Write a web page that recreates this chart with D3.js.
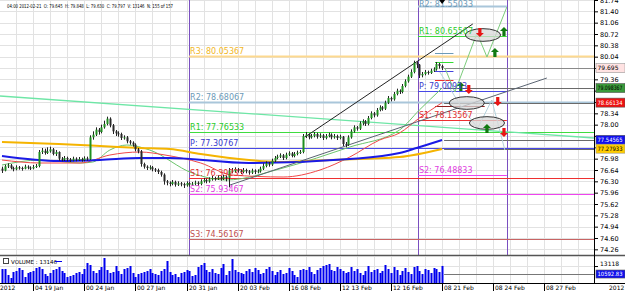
<!DOCTYPE html>
<html><head><meta charset="utf-8">
<script src="https://cdn.jsdelivr.net/npm/d3@7"></script>
<style>body{margin:0;background:#fff}svg{display:block;font-family:Tahoma,"DejaVu Sans",Verdana,sans-serif}</style>
</head><body><svg id="c" width="625" height="291"></svg>
<script>
// ---------- DATA ----------
const firstOpen = 76.68;
const closes = [76.62,76.75,76.78,76.70,76.66,76.72,76.70,76.68,76.74,76.71,76.69,76.73,76.76,77.18,77.22,77.15,77.20,77.26,77.12,77.18,
76.98,76.95,77.00,76.96,76.93,76.98,76.95,76.97,76.94,76.99,76.96,77.62,77.70,77.85,77.78,77.92,78.02,78.18,77.98,77.80,
77.74,77.72,77.60,77.62,77.50,77.46,77.40,77.26,77.20,76.82,76.74,76.70,76.72,76.66,76.64,76.58,76.50,76.30,76.26,76.22,
76.28,76.20,76.24,76.22,76.18,76.25,76.20,76.23,76.26,76.22,76.30,76.34,76.30,76.36,76.40,76.38,76.42,76.38,76.44,76.40,
76.62,76.60,76.66,76.62,76.58,76.64,76.60,76.56,76.62,76.58,76.60,76.68,76.76,76.84,76.80,76.92,77.00,77.04,77.08,77.00,
77.10,77.14,77.06,77.12,77.16,77.18,77.66,77.70,77.62,77.66,77.72,77.64,77.68,77.60,77.66,77.70,77.62,77.66,77.60,77.64,
77.42,77.40,77.62,77.80,77.92,77.88,78.04,78.10,78.02,78.20,78.34,78.28,78.44,78.52,78.48,78.66,78.80,78.76,78.92,79.02,
78.98,79.16,79.30,79.44,79.58,79.86,79.80,79.48,79.52,79.58,79.55,79.62,79.66,79.82,79.76,79.70];
const highs = [76.74,76.80,76.84,76.82,76.74,76.78,76.76,76.74,76.80,76.78,76.75,76.79,76.82,77.24,77.30,77.28,77.32,77.34,77.30,77.24,
77.20,77.03,77.06,77.04,77.00,77.04,77.02,77.03,77.01,77.05,77.04,77.68,77.80,77.92,77.90,78.00,78.12,78.24,78.22,78.02,
77.84,77.80,77.76,77.68,77.66,77.54,77.50,77.44,77.30,77.24,76.86,76.78,76.78,76.76,76.70,76.68,76.62,76.54,76.34,76.30,
76.34,76.32,76.30,76.28,76.26,76.30,76.28,76.28,76.32,76.30,76.36,76.40,76.38,76.42,76.46,76.44,76.48,76.46,76.50,76.48,
76.70,76.70,76.72,76.70,76.66,76.70,76.68,76.64,76.68,76.66,76.66,76.74,76.84,76.90,76.88,76.98,77.06,77.10,77.14,77.12,
77.16,77.20,77.18,77.18,77.22,77.24,77.72,77.78,77.74,77.72,77.78,77.76,77.74,77.72,77.72,77.76,77.74,77.72,77.70,77.70,
77.66,77.48,77.68,77.86,77.98,77.96,78.10,78.16,78.14,78.26,78.40,78.38,78.50,78.58,78.56,78.72,78.86,78.84,78.98,79.08,
79.06,79.22,79.36,79.50,79.66,79.92,79.90,79.82,79.58,79.64,79.62,79.68,79.72,79.88,79.85,79.80];
const lows = [76.55,76.60,76.70,76.66,76.60,76.63,76.65,76.62,76.66,76.66,76.64,76.66,76.70,76.72,77.12,77.10,77.12,77.16,77.08,77.06,
76.92,76.90,76.91,76.90,76.88,76.90,76.90,76.91,76.89,76.90,76.92,76.94,77.55,77.66,77.70,77.74,77.88,77.98,77.92,77.72,
77.66,77.64,77.54,77.55,77.44,77.40,77.34,77.20,77.14,76.74,76.68,76.64,76.65,76.60,76.58,76.52,76.44,76.20,76.18,76.15,
76.18,76.14,76.16,76.15,76.10,76.14,76.14,76.16,76.18,76.16,76.18,76.26,76.24,76.26,76.32,76.32,76.34,76.32,76.34,76.30,
76.12,76.54,76.56,76.56,76.52,76.54,76.54,76.50,76.52,76.52,76.54,76.56,76.64,76.72,76.74,76.76,76.88,76.96,77.00,76.94,
76.96,77.06,77.02,77.02,77.08,77.12,77.14,77.60,77.56,77.58,77.62,77.58,77.60,77.54,77.56,77.62,77.56,77.58,77.54,77.56,
77.36,77.32,77.36,77.58,77.76,77.82,77.84,77.98,77.96,77.98,78.16,78.22,78.24,78.40,78.42,78.44,78.62,78.70,78.72,78.88,
78.92,78.94,79.12,79.26,79.40,79.54,79.70,79.40,79.42,79.48,79.50,79.52,79.58,79.62,79.68,79.64];
const volumes = [12118,12118,10096,9085,11107,11444,12455,11781,9422,10770,11107,11444,12455,12792,12118,10433,9759,10770,11781,12118,
12792,11444,10770,9422,9759,10096,10770,11107,10433,12118,14140,13466,11444,10770,11781,12792,15825,11781,10770,11107,
13129,11444,10433,12118,12455,13129,10770,9422,10433,10770,11107,11444,12118,10770,10433,10096,11444,12118,14814,11107,
10096,10433,9422,10770,11107,11781,11444,9759,10096,12792,13466,14140,11781,11107,12118,10770,10433,12455,13803,10096,
11444,15488,11781,11107,10770,10433,11444,12118,11107,12455,11781,10433,10770,12118,12792,11444,10096,11107,11781,10433,
10770,12455,11444,10096,9422,11781,12118,11781,12792,11107,10433,11781,12455,13129,13466,13803,11781,11444,12792,12118,
11444,10770,11107,12792,11444,12118,10770,10096,11444,13129,11107,11781,12118,10770,11444,13466,12118,10770,12792,11781,
10096,11444,12455,11107,10433,12792,13129,11444,10433,12118,11781,10770,12455,12118,11107,13146];
const priceTicks = ["81.74","81.40","81.06","80.72","80.38","80.04","79.70","79.36","79.02","78.68","78.34","78.00",
"77.66","77.32","76.98","76.64","76.30","75.96","75.62","75.28","74.94","74.60","74.26"];
const dateTickIdx = [11,29,47,65,83,101,119,137,155,173,191];
const dateLabels = ["04 19 Jan","00 24 Jan","00 27 Jan","20 31 Jan","20 03 Feb","16 08 Feb","12 13 Feb","12 16 Feb","08 21 Feb","08 24 Feb","08 27 Feb"];
const weekStartIdx = [65.9, 146.5, 177.8];
const maBlue = [[0,77.06],[20,76.91],[34.5,76.94],[48.6,77.00],[59,77.00],[87,76.85],[122.5,76.97],[140,77.15],[146,77.30],[155,77.54]];
const maOrange = [[0,77.48],[20,77.42],[34.5,77.36],[48.6,77.30],[59,77.27],[70,77.12],[87,76.94],[97,76.88],[115.5,76.94],[140,77.03],[155,77.27]];
const maRed = [[0,76.94],[13.4,76.85],[27.5,76.85],[38,77.09],[48.6,77.18],[57.4,77.09],[70,76.85],[81,76.49],[99,76.43],[112,76.64],[122.5,77.03],[133,77.54],[140,77.75],[147,78.20],[155,78.66]];
const maGreen = [[0,76.79],[13.4,76.94],[27.5,76.85],[32,76.88],[38,77.24],[44,77.39],[52,77.24],[67,76.55],[79,76.34],[99,76.70],[122.5,77.33],[140,77.84],[147,78.44],[155,79.10]];
const mintLine = [[-0.7,78.86],[208.5,77.60]];
const channelLower = [[80.3,76.19],[191.9,79.40]];
const channelUpper = [[106.7,77.63],[165.8,81.02]];
const zigGreen = [[156,79.70],[159.5,78.98],[167.3,80.75],[170.8,80.03],[177.8,81.53]];
const zigBlue = [[154.2,79.58],[162,78.50],[167.6,77.90],[172.5,78.74],[177.1,77.24]];
const pivotNames1 = ["R3","R2","R1","P","S1","S2","S3"];
const pivotValues1 = [80.05367,78.68067,77.76533,77.30767,76.39233,75.93467,74.56167];
const pivotNames2 = ["R2","R1","P","S1","S2"];
const pivotValues2 = [81.55033,80.65567,79.00933,78.13567,76.48833];
const dailyValues = [80.15,79.88,79.61,79.34,78.56];
const levelValues = [79.695,79.098367,78.66134,77.54565,77.27933];
const levelLabels = ["79.695","79.098367","78.66134","77.54565","77.27933"];
const ellipses = [[169.4,80.69],[163.7,78.65],[170.8,78.05]];
const upArrows = [[176.8,80.78],[173.6,80.15],[161.6,79.13],[170.8,77.87]];
const downArrows = [[168.3,80.78],[164.4,79.07],[174.6,78.71],[176.8,77.78]];
const volTickValue = 13118, volLevel = 10592.83;
const headerText = "04:00 2012-02-21  O: 79.645  H: 79.848  L: 79.630  C: 79.797  V: 13146  N: 155 of 157";

// ---------- STYLE ----------
const pivotColors = {R3:["#fdd98f","#f2b726"],R2:["#a9c6da","#6d9ab8"],R1:["#3fdc3f","#2ccc2c"],P:["#4848e6","#3a3acc"],
  S1:["#ee3030","#e23030"],S2:["#ee44ee","#e040e0"],S3:["#c86464","#c05050"]};
const levelStyle = [["#ffe2e2","#000","#999"],["#3a9a3a","#000","#555"],["#ee1111","#fff","#555"],["#1010ee","#fff","#555"],["#ffcc00","#000","#999"]];
const dailyColors = ["#6d9ab8","#33dd33","#4444dd","#ee3030","#902020"];

const svg = d3.select("#c");
const axisX = 594, priceBottom = 255, volTop = 257, volBottom = 283;
const x = d3.scaleLinear().domain([0,208.5]).range([2,axisX]);
const y = d3.scaleLinear().domain([74.09,81.74]).range([priceBottom,0]);
const yv = d3.scaleLinear().domain([7400,15825]).range([volBottom,258]);
const line = d3.line().x(d=>x(d[0])).y(d=>y(d[1]));

svg.append("rect").attr("width",625).attr("height",291).attr("fill","#fff");

// grid
const gridG = svg.append("g").attr("stroke","#e2e2e2").attr("stroke-width",1);
d3.range(-1,209,6).forEach(i=>{
  const gx = Math.round(x(i))+0.5;
  if (gx>0 && gx<axisX) {
    gridG.append("line").attr("x1",gx).attr("x2",gx).attr("y1",0).attr("y2",priceBottom);
    gridG.append("line").attr("x1",gx).attr("x2",gx).attr("y1",volTop).attr("y2",volBottom);
  }
});
priceTicks.forEach(t=>{
  const gy = Math.round(y(+t))+0.5;
  gridG.append("line").attr("x1",0).attr("x2",axisX).attr("y1",gy).attr("y2",gy);
});
gridG.append("line").attr("x1",0).attr("x2",axisX).attr("y1",Math.round(yv(volTickValue))+0.5).attr("y2",Math.round(yv(volTickValue))+0.5);

// week separators
weekStartIdx.forEach(w=>{
  const wx = Math.round(x(w))+0.5;
  svg.append("line").attr("x1",wx).attr("x2",wx).attr("y1",0).attr("y2",priceBottom).attr("stroke","#7a4fc0").attr("stroke-width",1);
});

// pivots week 1
pivotNames1.forEach((n,i)=>{
  const v = pivotValues1[i], py = Math.round(y(v))+0.5;
  svg.append("line").attr("x1",x(weekStartIdx[0])).attr("x2",axisX).attr("y1",py).attr("y2",py)
    .attr("stroke",pivotColors[n][0]).attr("stroke-width",n==="R3"||n==="R2"?2:1);
});
// pivots week 2
pivotNames2.forEach((n,i)=>{
  const v = pivotValues2[i], py = Math.round(y(v))+0.5;
  svg.append("line").attr("x1",x(weekStartIdx[1])).attr("x2",x(weekStartIdx[2])).attr("y1",py).attr("y2",py)
    .attr("stroke",pivotColors[n][0]).attr("stroke-width",n==="R2"?2:1);
});

// mint trend line
svg.append("path").attr("d",line(mintLine)).attr("fill","none").attr("stroke","#6ee6a6").attr("stroke-width",1.3);

// right-side level lines
levelValues.forEach((v,i)=>{
  const ly = Math.round(y(v))+0.5;
  svg.append("line").attr("x1",x(155)+2).attr("x2",axisX).attr("y1",ly).attr("y2",ly)
    .attr("stroke",i===0?"#8a8a8a":"#6a6a6a").attr("stroke-width",1.2);
});
// daily short lines
dailyValues.forEach((v,i)=>{
  const dy = Math.round(y(v))+0.5;
  svg.append("line").attr("x1",x(152.5)).attr("x2",x(i===4?170:159)).attr("y1",dy).attr("y2",dy)
    .attr("stroke",dailyColors[i]).attr("stroke-width",1);
});

// moving averages
const maCurve = d3.line().x(d=>x(d[0])).y(d=>y(d[1])).curve(d3.curveMonotoneX);
svg.append("path").attr("d",maCurve(maGreen)).attr("fill","none").attr("stroke","#6cc46c").attr("stroke-width",1);
svg.append("path").attr("d",maCurve(maRed)).attr("fill","none").attr("stroke","#f04848").attr("stroke-width",1);
svg.append("path").attr("d",maCurve(maOrange)).attr("fill","none").attr("stroke","#f5b400").attr("stroke-width",2);
svg.append("path").attr("d",maCurve(maBlue)).attr("fill","none").attr("stroke","#1a1ae6").attr("stroke-width",2);

// channel lines
svg.append("path").attr("d",line(channelLower)).attr("fill","none").attr("stroke","#5a6472").attr("stroke-width",1);
svg.append("path").attr("d",line(channelUpper)).attr("fill","none").attr("stroke","#222").attr("stroke-width",1);

// zigzags
svg.append("path").attr("d",line(zigBlue)).attr("fill","none").attr("stroke","#b4d2dc").attr("stroke-width",1);
svg.append("path").attr("d",line(zigGreen)).attr("fill","none").attr("stroke","#7ccc7c").attr("stroke-width",1);

// ellipses
ellipses.forEach(e=>{
  svg.append("ellipse").attr("cx",x(e[0])).attr("cy",y(e[1])).attr("rx",x(e[0]+6.2)-x(e[0])).attr("ry",y(e[1]-0.19)-y(e[1]))
    .attr("fill","#d8d8d8").attr("fill-opacity",0.75).attr("stroke","#333").attr("stroke-width",1);
});

// candles
const cg = svg.append("g");
closes.forEach((c,i)=>{
  const o = i===0?firstOpen:closes[i-1];
  const cx = Math.round(x(i));
  cg.append("line").attr("x1",cx+0.5).attr("x2",cx+0.5).attr("y1",y(highs[i])).attr("y2",y(lows[i])).attr("stroke","#222").attr("stroke-width",1);
  const top = y(Math.max(o,c)), bot = y(Math.min(o,c));
  cg.append("rect").attr("x",cx-0.5).attr("width",2).attr("y",top).attr("height",Math.max(1,bot-top))
    .attr("fill",c>=o?"#1f8f1f":"#2a2a2a");
});

// arrows
const upPts = "0,-5 4,-1 1.6,-1 1.6,4 -1.6,4 -1.6,-1 -4,-1";
const downPts = "0,5 4,1 1.6,1 1.6,-4 -1.6,-4 -1.6,1 -4,1";
upArrows.forEach(a=>svg.append("polygon").attr("points",upPts).attr("transform",`translate(${x(a[0])},${y(a[1])})`).attr("fill","#117a11"));
downArrows.forEach(a=>svg.append("polygon").attr("points",downPts).attr("transform",`translate(${x(a[0])},${y(a[1])})`).attr("fill","#e81515"));

// pivot labels
pivotNames1.forEach((n,i)=>{
  svg.append("text").attr("x",x(weekStartIdx[0])+1).attr("y",y(pivotValues1[i])-2).attr("font-size",8)
    .attr("fill",pivotColors[n][1]).text(`${n}: ${pivotValues1[i].toFixed(5)}`);
});
pivotNames2.forEach((n,i)=>{
  svg.append("text").attr("x",x(weekStartIdx[1])+1).attr("y",Math.max(7,y(pivotValues2[i])-2)).attr("font-size",8)
    .attr("fill",pivotColors[n][1]).text(`${n}: ${pivotValues2[i].toFixed(5)}`);
});

// top marker
svg.append("polygon").attr("points","-3,0 3,0 0,4").attr("transform",`translate(${x(155)},0)`).attr("fill","#000");

// panel separator
svg.append("line").attr("x1",0).attr("x2",625).attr("y1",priceBottom+0.5).attr("y2",priceBottom+0.5).attr("stroke","#555").attr("stroke-width",1.5);

// volume bars
volumes.forEach((v,i)=>{
  svg.append("rect").attr("x",Math.round(x(i))-0.5).attr("width",2).attr("y",yv(v)).attr("height",volBottom-yv(v)).attr("fill","#0000ee");
});
svg.append("line").attr("x1",x(155)+2).attr("x2",axisX).attr("y1",Math.round(yv(volLevel))+0.5).attr("y2",Math.round(yv(volLevel))+0.5).attr("stroke","#777").attr("stroke-width",1.2);
// volume legend
svg.append("rect").attr("x",3.5).attr("y",258.5).attr("width",5).attr("height",5).attr("fill","#fff").attr("stroke","#444");
svg.append("text").attr("x",11).attr("y",264).attr("font-size",5.5).attr("fill","#000").text("VOLUME : 13146");
svg.append("line").attr("x1",55).attr("x2",62).attr("y1",261.5).attr("y2",261.5).attr("stroke","#0000ee").attr("stroke-width",1);

// right price axis (labels hidden where a level box sits)
const ax = svg.append("g").attr("transform",`translate(${axisX},0)`)
  .call(d3.axisRight(y).tickValues(priceTicks.map(Number)).tickFormat((d,i)=>priceTicks[i]).tickSize(4).tickPadding(2));
ax.select(".domain").remove();
ax.selectAll("text").attr("font-size",6.5).attr("fill","#000").attr("font-family","Tahoma,'DejaVu Sans',sans-serif")
  .attr("display",d=>levelValues.some(v=>Math.abs(y(v)-y(d))<7)?"none":null);
ax.selectAll("line").attr("stroke","#000");
svg.append("line").attr("x1",axisX+0.5).attr("x2",axisX+0.5).attr("y1",0).attr("y2",volBottom).attr("stroke","#000");
// volume axis
const vax = svg.append("g").attr("transform",`translate(${axisX},0)`)
  .call(d3.axisRight(yv).tickValues([volTickValue]).tickFormat(d3.format("d")).tickSize(4).tickPadding(2));
vax.select(".domain").remove();
vax.selectAll("text").attr("font-size",6).attr("fill","#000").attr("font-family","Tahoma,'DejaVu Sans',sans-serif").attr("dy","-0.1em");

// level boxes
levelValues.forEach((v,i)=>{
  const by = y(v);
  svg.append("rect").attr("x",axisX+2).attr("y",by-4.5).attr("width",29).attr("height",9)
    .attr("fill",levelStyle[i][0]).attr("stroke",levelStyle[i][2]).attr("stroke-width",0.6);
  const t = svg.append("text").attr("x",axisX+3.5).attr("y",by+2.3).attr("font-size",6).attr("fill",levelStyle[i][1]).text(levelLabels[i]);
  if (levelLabels[i].length>6) t.attr("textLength",25).attr("lengthAdjust","spacingAndGlyphs");
});
{
  const by = yv(volLevel);
  svg.append("rect").attr("x",axisX+2).attr("y",by-3.5).attr("width",29).attr("height",8).attr("fill","#1010ee").attr("stroke","#555").attr("stroke-width",0.6);
  svg.append("text").attr("x",axisX+3.5).attr("y",by+2.6).attr("font-size",5.8).attr("fill","#fff")
    .attr("textLength",25).attr("lengthAdjust","spacingAndGlyphs").text(volLevel.toFixed(2));
}

// bottom axis
svg.append("line").attr("x1",0).attr("x2",625).attr("y1",volBottom+0.5).attr("y2",volBottom+0.5).attr("stroke","#000");
const xg = svg.append("g");
dateTickIdx.forEach((t,i)=>{
  const tx = Math.round(x(t))+0.5;
  xg.append("line").attr("x1",tx).attr("x2",tx).attr("y1",volBottom).attr("y2",291).attr("stroke","#000");
  xg.append("text").attr("x",tx+1.5).attr("y",289.5).attr("font-size",6).attr("fill","#000").text(dateLabels[i]);
});
xg.append("text").attr("x",0).attr("y",289.5).attr("font-size",6).attr("fill","#000").text("2012");
xg.append("text").attr("x",609).attr("y",289.5).attr("font-size",6).attr("fill","#000").text("2012");

// header
svg.append("text").attr("x",7).attr("y",8).attr("font-size",5.5).attr("fill","#000").attr("xml:space","preserve")
  .attr("textLength",166).attr("lengthAdjust","spacingAndGlyphs").text(headerText);
</script></body></html>
